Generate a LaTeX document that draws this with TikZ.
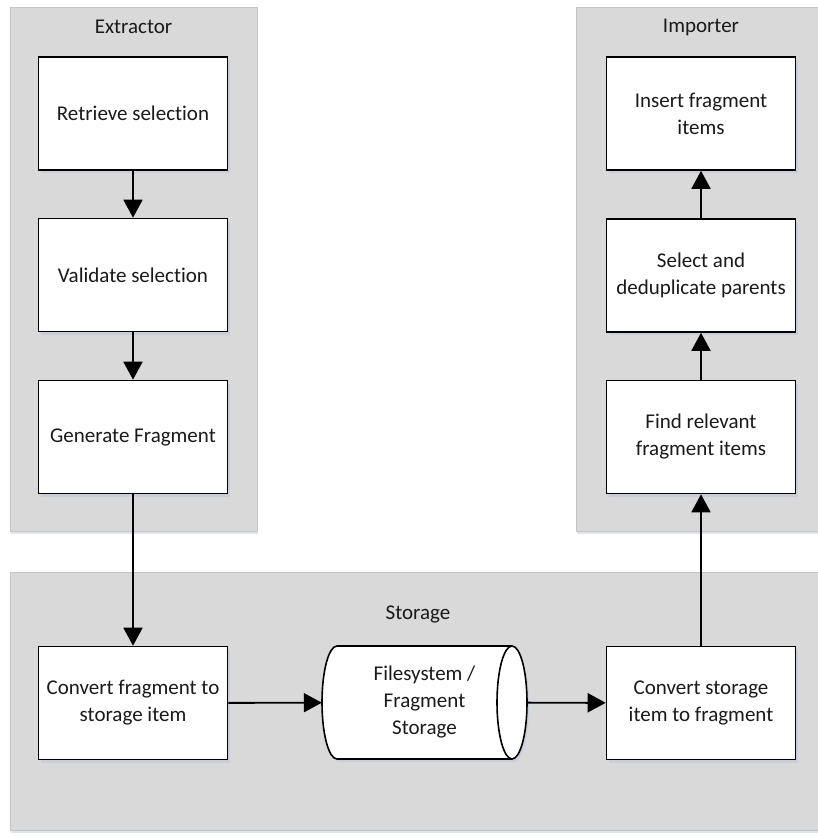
\documentclass[tikz,border=0pt]{standalone}
\usepackage{fontspec}
\setmainfont[Ligatures=NoCommon]{Carlito}
\usetikzlibrary{arrows.meta,shadows}

\definecolor{groupfill}{HTML}{D9D9D9}
\definecolor{groupline}{HTML}{C4C4C4}
\definecolor{inktext}{HTML}{1A1A1A}
\definecolor{shadowtint}{HTML}{B8C6D8}

\tikzset{
  lane/.style={draw=groupline, line width=0.9pt, fill=groupfill,
    drop shadow={shadow xshift=1pt, shadow yshift=-3pt, fill=shadowtint, opacity=0.45}},
  lanetitle/.style={text=inktext, font=\fontsize{21}{27}\selectfont, inner sep=0pt},
  stepbox/.style={draw=black, line width=1.6pt, fill=white, rectangle,
    minimum width=189pt, minimum height=113pt, inner sep=0pt, align=center,
    text=inktext, font=\fontsize{21}{27}\selectfont,
    drop shadow={shadow xshift=2pt, shadow yshift=-3pt, fill=shadowtint, opacity=0.5}},
  flow/.style={draw=black, line width=1.9pt, -{Triangle[length=18pt, width=19pt]}},
}

\begin{document}
\begin{tikzpicture}[x=1pt, y=-1pt]
  \useasboundingbox (0,0) rectangle (817,837);
  \fill[white] (0,0) rectangle (817,837);

  % swimlane backgrounds
  \draw[lane] (10,7) rectangle (257,531);
  \draw[lane] (576,7) rectangle (826,531);
  \draw[lane] (10,572) rectangle (826,830);

  \node[lanetitle] (extitle) at (133.5,27) {Extractor};
  \node[lanetitle] (imtitle) at (701,27) {Importer};
  \node[lanetitle] (sttitle) at (418,614) {Storage};

  % extractor steps
  \node[stepbox] (retrieve) at (133,113.5) {Retrieve selection};
  \node[stepbox] (validate) at (133,275) {Validate selection};
  \node[stepbox] (generate) at (133,437) {Generate Fragment};

  % importer steps
  \node[stepbox] (insert) at (701,113.5) {Insert fragment\\items};
  \node[stepbox] (dedup) at (701,275.5) {Select and\\deduplicate parents};
  \node[stepbox] (find) at (701,437) {Find relevant\\fragment items};

  % storage steps
  \node[stepbox] (tostore) at (133,703) {Convert fragment to\\storage item};
  \node[stepbox] (fromstore) at (701,703) {Convert storage\\item to fragment};

  % storage cylinder
  \draw[line width=1.6pt, fill=white,
        drop shadow={shadow xshift=2pt, shadow yshift=-3pt, fill=shadowtint, opacity=0.5}]
    (337,646) -- (512,646)
    arc[start angle=90, end angle=-90, x radius=15pt, y radius=56.5pt]
    -- (337,759)
    arc[start angle=270, end angle=90, x radius=15pt, y radius=56.5pt] -- cycle;
  \draw[line width=1.6pt] (512,646)
    arc[start angle=90, end angle=270, x radius=15pt, y radius=56.5pt];
  \node[minimum width=205pt, minimum height=113pt, inner sep=0pt, align=center,
        text=inktext, font=\fontsize{21}{27}\selectfont] (store) at (424.5,702.5)
    {Filesystem /\\Fragment\\Storage};

  % connectors
  \draw[flow] (retrieve) -- (validate);
  \draw[flow] (validate) -- (generate);
  \draw[flow] (generate) -- (tostore);
  \draw[flow] (tostore) -- (store);
  \draw[flow] (store) -- (fromstore);
  \draw[flow] (fromstore) -- (find);
  \draw[flow] (find) -- (dedup);
  \draw[flow] (dedup) -- (insert);
\end{tikzpicture}
\end{document}
